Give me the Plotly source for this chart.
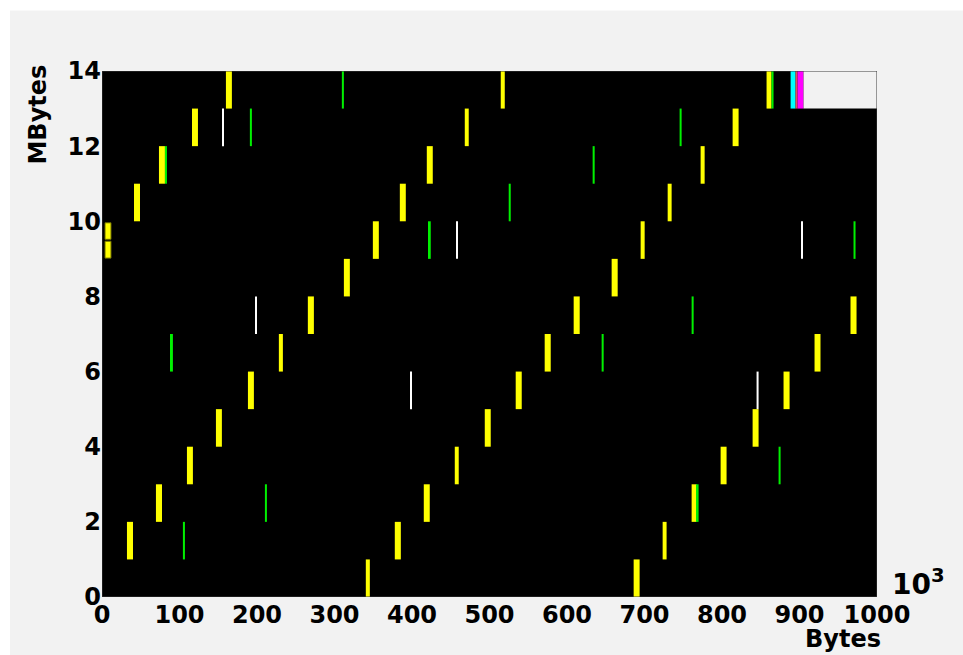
import plotly.graph_objects as go

# Each entry: (row in MBytes, start in 10^3 bytes, end in 10^3 bytes)
yellow = [
    (13, 159.9, 167.6), (13, 514.5, 519.7), (13, 857.5, 863.9),
    (12, 116.1, 123.8), (12, 468.1, 473.2), (12, 813.7, 821.4),
    (11, 73.5, 81.2), (11, 419.1, 426.8), (11, 772.4, 777.6),
    (10, 41.3, 49.0), (10, 384.3, 392.0), (10, 729.9, 735.0),
    (9, 349.5, 357.2), (9, 695.0, 700.2),
    (8, 312.1, 319.8), (8, 657.6, 665.4),
    (7, 265.6, 273.4), (7, 608.6, 616.4), (7, 965.8, 973.6),
    (6, 228.2, 233.4), (6, 571.2, 579.0), (6, 919.4, 927.1),
    (5, 188.3, 196.0), (5, 533.8, 541.6), (5, 879.4, 887.2),
    (4, 147.0, 154.7), (4, 493.9, 501.6), (4, 839.5, 847.2),
    (3, 109.6, 117.3), (3, 455.2, 460.3), (3, 798.2, 805.9),
    (2, 69.6, 77.4), (2, 415.2, 422.9), (2, 760.8, 767.3),
    (1, 32.2, 40.0), (1, 377.8, 385.6), (1, 723.4, 728.5),
    (0, 340.4, 345.6), (0, 686.0, 693.7),
]
# split yellow block in row 9: (y low, y high, start, end)
yellow_split = [(9.02, 9.47, 3.9, 11.6), (9.52, 9.96, 3.9, 11.6)]

green = [
    (13, 309.5, 312.1), (13, 863.9, 866.5),
    (12, 190.8, 193.4), (12, 745.3, 747.9),
    (11, 81.2, 83.8), (11, 633.1, 635.7),
    (10, 524.8, 527.4),
    (9, 421.7, 424.2), (9, 969.7, 972.3),
    (7, 760.8, 763.4),
    (6, 89.0, 91.5), (6, 644.7, 647.3),
    (3, 873.0, 875.6),
    (2, 210.2, 212.8), (2, 767.3, 769.8),
    (1, 104.4, 107.0),
]
white = [
    (12, 156.0, 157.3),
    (9, 457.8, 459.1), (9, 902.5, 903.8),
    (7, 198.6, 199.9),
    (5, 398.5, 399.7), (5, 844.6, 847.2),
]
cyan = [(13, 888.5, 894.9)]
red = [(13, 894.9, 897.5)]
magenta = [(13, 897.5, 905.2)]
unused = [(13, 905.2, 1000.0)]

x_ticks = list(range(0, 1001, 100))
y_ticks = list(range(0, 15, 2))

BG = "#f2f2f2"
FONT = "DejaVu Sans"

fig = go.Figure()


def add_blocks(blocks, color):
    fig.add_trace(go.Bar(
        orientation="h",
        y=[r + 0.5 for r, s, e in blocks],
        x=[e - s for r, s, e in blocks],
        base=[s for r, s, e in blocks],
        width=1.0,
        marker=dict(color=color, line=dict(width=0)),
        hoverinfo="skip",
        showlegend=False,
    ))


add_blocks(yellow, "#ffff00")
add_blocks(green, "#00f000")
add_blocks(white, "#ffffff")
add_blocks(cyan, "#00ffff")
add_blocks(red, "#e6505a")
add_blocks(magenta, "#ff00ff")
add_blocks(unused, BG)

fig.add_trace(go.Bar(
    orientation="h",
    y=[(lo + hi) / 2 for lo, hi, s, e in yellow_split],
    x=[e - s for lo, hi, s, e in yellow_split],
    base=[s for lo, hi, s, e in yellow_split],
    width=[hi - lo for lo, hi, s, e in yellow_split],
    marker=dict(color="#ffff00", line=dict(width=1, color="#6b6b00")),
    hoverinfo="skip",
    showlegend=False,
))

L, R, T, B = 102, 85.5, 70.5, 58
W, H = 963, 655
pw, ph = W - L - R, H - T - B


def px_x(p):
    return (p - L) / pw


def px_y(p):
    return (H - B - p) / ph


fig.update_layout(
    width=W, height=H,
    margin=dict(l=L, r=R, t=T, b=B, pad=0),
    paper_bgcolor=BG,
    plot_bgcolor="black",
    barmode="overlay",
    showlegend=False,
    xaxis=dict(
        range=[0, 1000], tickvals=x_ticks, ticktext=[str(v) for v in x_ticks],
        showgrid=False, zeroline=False, ticks="", showline=False,
        tickfont=dict(family=FONT, size=24, color="black", weight="bold"),
        ticklabelstandoff=1,
    ),
    yaxis=dict(
        range=[0, 14], tickvals=y_ticks, ticktext=[str(v) for v in y_ticks],
        showgrid=False, zeroline=False, ticks="", showline=False,
        tickfont=dict(family=FONT, size=24, color="black", weight="bold"),
        ticklabelstandoff=0,
    ),
    shapes=[
        dict(type="rect", xref="paper", yref="paper",
             x0=px_x(-50), x1=px_x(10), y0=px_y(700), y1=px_y(-50),
             fillcolor="white", line=dict(width=0), layer="above"),
        dict(type="rect", xref="paper", yref="paper",
             x0=px_x(-50), x1=px_x(1000), y0=px_y(10), y1=px_y(-50),
             fillcolor="white", line=dict(width=0), layer="above"),
        dict(type="rect", xref="x", yref="y", x0=0, x1=1000, y0=0, y1=14,
             line=dict(color="#3a3a3a", width=1), layer="above"),
    ],
    annotations=[
        dict(text="<b>MBytes</b>", xref="paper", yref="paper",
             x=px_x(38.3), y=px_y(61.7), xanchor="center", yanchor="top",
             textangle=-90, showarrow=False,
             font=dict(family=FONT, size=24, color="black")),
        dict(text="<b>Bytes</b>", xref="paper", yref="paper",
             x=px_x(884), y=px_y(639), xanchor="right", yanchor="middle",
             showarrow=False,
             font=dict(family=FONT, size=24, color="black")),
        dict(text="<b>10<sup>3</sup></b>", xref="paper", yref="paper",
             x=px_x(891), y=px_y(603), xanchor="left", yanchor="bottom",
             showarrow=False,
             font=dict(family=FONT, size=28, color="black")),
    ],
)

fig.write_html("out.html")
